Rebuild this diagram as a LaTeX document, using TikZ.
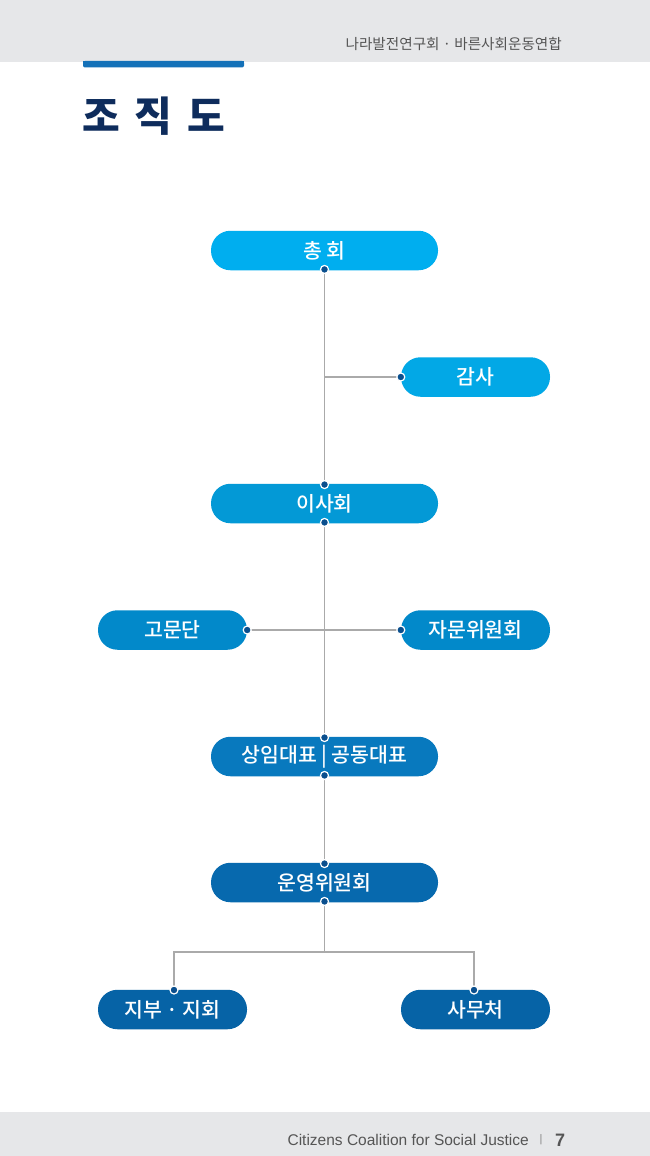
\documentclass[tikz,border=0pt]{standalone}
\usepackage{fontspec}
\setmainfont{Noto Sans CJK KR}
\newfontfamily\krfont{Noto Sans CJK KR}
\newfontfamily\krmed{Noto Sans CJK KR Medium}
\newfontfamily\krblack{Noto Sans CJK KR Black}
\newfontfamily\latinfont{Liberation Sans}
\definecolor{hdrgray}{HTML}{E6E7E9}
\definecolor{barblue}{HTML}{1471B8}
\definecolor{navy}{HTML}{0E2C5C}
\definecolor{linegray}{HTML}{AAAAAA}
\definecolor{dotblue}{HTML}{0A4F8E}
\definecolor{cA}{HTML}{00AEEF}
\definecolor{cB}{HTML}{02A8E6}
\definecolor{cC}{HTML}{0399D6}
\definecolor{cD}{HTML}{0289CA}
\definecolor{cE}{HTML}{0879BE}
\definecolor{cF}{HTML}{0769AE}
\definecolor{cG}{HTML}{0663A6}
\definecolor{txtgray}{HTML}{555555}
\begin{document}
\begin{tikzpicture}[x=1pt,y=-1pt,
  org/.style={rounded corners=19.5pt, minimum height=39.5pt, inner sep=0pt,
    text=white, font=\krmed\fontsize{20.5}{20.5}\selectfont},
  wide/.style={org, minimum width=227pt},
  narrow/.style={org, minimum width=149pt},
  conn/.style={draw=linegray, line width=1.6pt},
  jdot/.style={circle, fill=dotblue, draw=white, line width=1.2pt, minimum size=8pt, inner sep=0pt}
]
\useasboundingbox (0,0) rectangle (650,1156);
\fill[white] (0,0) rectangle (650,1156);
% header
\fill[hdrgray] (0,0) rectangle (650,62);
\node[anchor=east, text=txtgray, font=\krfont\fontsize{14.6}{14.6}\selectfont, inner sep=0pt] (hdr) at (562,44) {나라발전연구회 · 바른사회운동연합};
\fill[barblue, rounded corners=2pt] (83,61) rectangle (244,67.5);
\fill[barblue] (83,61) rectangle (244,64);
% title
\node[anchor=west, text=navy, font=\krblack\fontsize{41}{41}\selectfont, inner sep=0pt] (title) at (82,116) {조\hspace{15pt}직\hspace{15pt}도};
% footer
\fill[hdrgray] (0,1112) rectangle (650,1156);
\node[anchor=east, text=txtgray, font=\latinfont\fontsize{15.5}{15.5}\selectfont, inner sep=0pt] (ftr) at (529,1140) {Citizens Coalition for Social Justice};
\node[text=txtgray!70, font=\latinfont\fontsize{11}{11}\selectfont, inner sep=0pt] (bar) at (541,1140) {|};
\node[anchor=west, text=txtgray, font=\latinfont\bfseries\fontsize{18}{18}\selectfont, inner sep=0pt] (pg) at (555,1140) {7};
% nodes
\node[wide, fill=cA] (chong) at (324.5,250.5) {총\hspace{4pt}회};
\node[narrow, fill=cB] (gamsa) at (475.5,377) {감사};
\node[wide, fill=cC] (isa) at (324.5,503.5) {이사회};
\node[narrow, fill=cD] (gomun) at (172.5,630) {고문단};
\node[narrow, fill=cD] (jamun) at (475.5,630) {자문위원회};
\node[wide, fill=cE] (sangim) at (324.5,756.5) {상임대표 | 공동대표};
\node[wide, fill=cF] (unyeong) at (324.5,882.5) {운영위원회};
\node[narrow, fill=cG] (jibu) at (172.5,1009.5) {지부 · 지회};
\node[narrow, fill=cG] (samu) at (475.5,1009.5) {사무처};
% junction coordinates
\coordinate (j1) at (chong.south |- gamsa.west);
\coordinate (j3) at (unyeong.south |- 0,952);
\coordinate (jl) at (174,952);
\coordinate (jr) at (474,952);
\coordinate (jibutop) at (174,990);
\coordinate (samutop) at (474,990);
% connectors
\draw[conn] (chong.south) -- (isa.north);
\draw[conn] (j1) -- (gamsa.west);
\draw[conn] (isa.south) -- (sangim.north);
\draw[conn] (gomun.east) -- (jamun.west);
\draw[conn] (sangim.south) -- (unyeong.north);
\draw[conn] (unyeong.south) -- (j3);
\draw[conn] (jibutop) -- (jl) -- (jr) -- (samutop);
% dots
\node[jdot] at ([yshift=1pt]chong.south) {};
\node[jdot] at ([yshift=-1pt]isa.north) {};
\node[jdot] at ([yshift=1pt]isa.south) {};
\node[jdot] at (gamsa.west) {};
\node[jdot] at (gomun.east) {};
\node[jdot] at (jamun.west) {};
\node[jdot] at ([yshift=-1pt]sangim.north) {};
\node[jdot] at ([yshift=1pt]sangim.south) {};
\node[jdot] at ([yshift=-1pt]unyeong.north) {};
\node[jdot] at ([yshift=1pt]unyeong.south) {};
\node[jdot] at (jibutop) {};
\node[jdot] at (samutop) {};
\end{tikzpicture}
\end{document}
